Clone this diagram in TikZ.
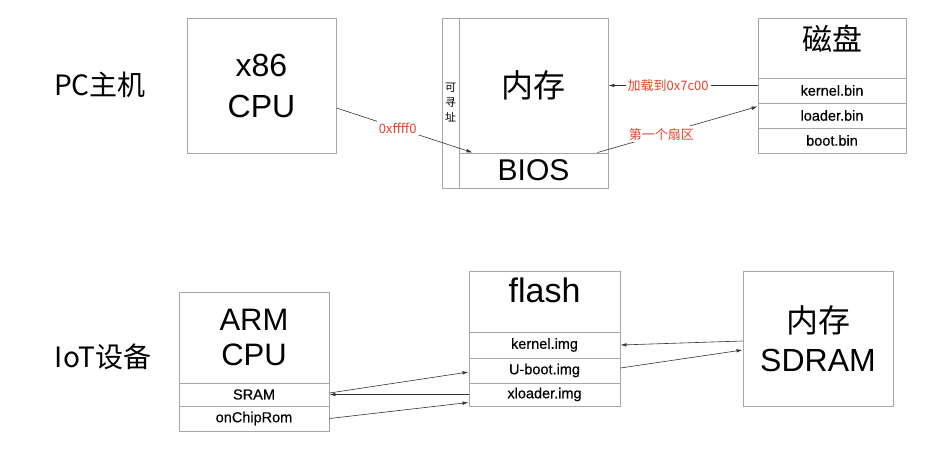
\documentclass[tikz,border=0pt]{standalone}
\usepackage{fontspec}
\setmainfont{Liberation Sans}
\newfontfamily\cjk{Noto Sans CJK SC}
\newfontfamily\cellfont{Liberation Sans}[FakeBold=0.5]
\usetikzlibrary{arrows.meta}

\definecolor{boxgray}{HTML}{A6A6A6}
\definecolor{labred}{HTML}{E8432C}
\definecolor{linegray}{HTML}{333333}

\tikzset{
  box/.style = {draw = boxgray, line width = 0.9pt, rectangle, inner sep = 0pt, align = center},
  big/.style = {font = \fontsize{32}{41}\selectfont},
  cell/.style = {box, font = \cellfont\fontsize{14.5}{16}\selectfont},
  side/.style = {font = \cjk\fontsize{28}{32}\selectfont},
  lbl/.style = {fill = white, text = labred, inner sep = 2pt, font = \cjk\fontsize{13}{15}\selectfont},
  link/.style = {draw = linegray, line width = 0.6pt, -{Latex[length=6pt, width=3.5pt]}}
}

\begin{document}
\begin{tikzpicture}[x = 1pt, y = -1pt]
\useasboundingbox[fill = white] (0, 0) rectangle (933, 471);

% PC
\node[side] (pc) at (100, 85) {PC主机};
\node[box, big, minimum width = 149, minimum height = 135] (cpu) at (261.5, 85.5) {x86\\CPU};

\node[box, minimum width = 17, minimum height = 170, font = \cjk\fontsize{11}{15}\selectfont] (addr) at (450.5, 103)
  {可\\寻\\址};
\node[box, minimum width = 149, minimum height = 135] (mem) at (533.5, 85.5)
  {\cjk\fontsize{32}{36}\selectfont 内存};
\node[box, minimum width = 149, minimum height = 35] (bios) at (533.5, 170.5)
  {\fontsize{30}{34}\selectfont BIOS};

\node[box, minimum width = 148, minimum height = 60] (disk) at (832, 48) {};
\node[font = \cjk\fontsize{30}{34}\selectfont] (disktxt) at (832, 39) {磁盘};
\node[cell, minimum width = 148, minimum height = 25] (kbin) at (832, 90.5) {kernel.bin};
\node[cell, minimum width = 148, minimum height = 25] (lbin) at (832, 115.5) {loader.bin};
\node[cell, minimum width = 148, minimum height = 25] (bbin) at (832, 140.5) {boot.bin};

\draw[link] ([yshift = -22.5pt]cpu.east) -- node[lbl, pos = 0.45] {0xffff0} ([xshift = 14pt]bios.north west);
\draw[link] (kbin.west |- mem.east) -- node[lbl, pos = 0.6] {加载到0x7c00} (mem.east);
\draw[link] ([xshift = -11pt]bios.north east) -- node[lbl, pos = 0.4] {第一个扇区} ([yshift = -4pt]lbin.north west);

% IoT
\node[side] (iot) at (103, 357) {IoT设备};
\node[box, minimum width = 150, minimum height = 91, font = \fontsize{31}{35}\selectfont] (arm) at (254, 337.5) {ARM\\CPU};
\node[cell, minimum width = 150, minimum height = 23] (sram) at (254, 394.5) {SRAM};
\node[cell, minimum width = 150, minimum height = 25] (rom) at (254, 418.5) {onChipRom};

\node[box, minimum width = 151, minimum height = 61] (flash) at (544.5, 301.5) {};
\node[font = \fontsize{34}{38}\selectfont] (flashtxt) at (544.5, 290) {flash};
\node[cell, minimum width = 151, minimum height = 26] (kimg) at (544.5, 345) {kernel.img};
\node[cell, minimum width = 151, minimum height = 25] (uimg) at (544.5, 370.5) {U-boot.img};
\node[cell, minimum width = 151, minimum height = 23] (ximg) at (544.5, 394.5) {xloader.img};

\node[box, minimum width = 150, minimum height = 135] (sdram) at (818, 338.5)
  {{\cjk\fontsize{32}{36}\selectfont 内存}\\[13pt]{\fontsize{32}{36}\selectfont SDRAM}};

\draw[link] (ximg.west) -- (sram.east);
\draw[link] ([yshift = 1.5pt]sram.east) -- ([yshift = -1.5pt]uimg.west);
\draw[link] (rom.east) -- ([yshift = -8pt]ximg.west);
\draw[link] ([yshift = -2.5pt]sdram.west) -- (kimg.east);
\draw[link] ([yshift = 2.5pt]uimg.east) -- ([yshift = -11.5pt]sdram.west);
\end{tikzpicture}
\end{document}
